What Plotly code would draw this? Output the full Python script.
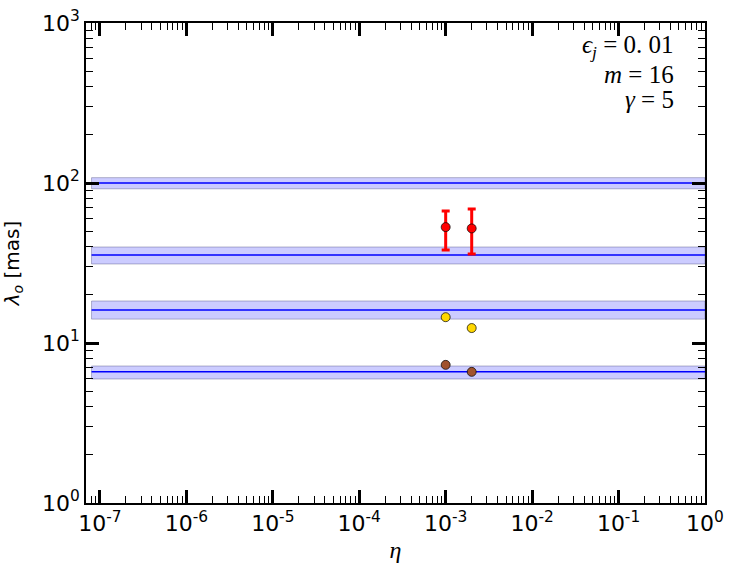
import plotly.graph_objects as go
import numpy as np

# Data
band_center = [100.0, 35.5, 16.1, 6.6]
band_lower = [92.0, 31.2, 14.1, 5.96]
band_upper = [108.0, 39.8, 18.3, 7.18]
band_x = [8e-8, 1.0]

eta = [1e-3, 2e-3]
red_vals = [53.0, 52.0]
red_err_plus = [13.8, 16.8]
red_err_minus = [14.9, 16.0]
yellow_vals = [14.5, 12.4]
brown_vals = [7.3, 6.6]

x_tick_vals = [1e-7, 1e-6, 1e-5, 1e-4, 1e-3, 1e-2, 1e-1, 1]
x_tick_text = ["10<sup>-7</sup>", "10<sup>-6</sup>", "10<sup>-5</sup>", "10<sup>-4</sup>",
               "10<sup>-3</sup>", "10<sup>-2</sup>", "10<sup>-1</sup>", "10<sup>0</sup>"]
y_tick_vals = [1, 10, 100, 1000]
y_tick_text = ["10<sup>0</sup>", "10<sup>1</sup>", "10<sup>2</sup>", "10<sup>3</sup>"]

fig = go.Figure()

for c, lo, hi in zip(band_center, band_lower, band_upper):
    fig.add_trace(go.Scatter(
        x=[band_x[0], band_x[1], band_x[1], band_x[0], band_x[0]],
        y=[lo, lo, hi, hi, lo],
        mode="lines", fill="toself",
        fillcolor="rgba(0,0,255,0.2)",
        line=dict(color="rgba(90,90,140,0.45)", width=1),
        hoverinfo="skip", showlegend=False))
    fig.add_trace(go.Scatter(
        x=band_x, y=[c, c], mode="lines",
        line=dict(color="blue", width=1.5),
        showlegend=False))

fig.add_trace(go.Scatter(
    x=eta, y=red_vals, mode="markers",
    marker=dict(color="red", size=9, line=dict(color="black", width=0.7)),
    error_y=dict(type="data", symmetric=False, array=red_err_plus,
                 arrayminus=red_err_minus, color="red", thickness=3, width=4),
    showlegend=False))
fig.add_trace(go.Scatter(
    x=eta, y=yellow_vals, mode="markers",
    marker=dict(color="gold", size=9, line=dict(color="black", width=0.7)),
    showlegend=False))
fig.add_trace(go.Scatter(
    x=eta, y=brown_vals, mode="markers",
    marker=dict(color="sienna", size=9, line=dict(color="black", width=0.7)),
    showlegend=False))

minor_x = [m * 10.0 ** k for k in range(-8, 1) for m in range(2, 10)]
minor_y = [m * 10.0 ** k for k in range(0, 3) for m in range(2, 10)]

axis_common = dict(
    showgrid=False, zeroline=False, showline=True, linecolor="black", linewidth=1.5,
    mirror="allticks", ticks="inside", ticklen=13, tickwidth=2.5, tickcolor="black",
    tickfont=dict(family="DejaVu Sans", size=22, color="black"),
    automargin=False,
)

fig.update_xaxes(
    type="log", range=[np.log10(6.9e-8), 0],
    tickmode="array", tickvals=x_tick_vals, ticktext=x_tick_text,
    minor=dict(ticks="inside", ticklen=7, tickwidth=1.2, tickcolor="black",
               tickmode="array", tickvals=minor_x),
    title=dict(text="<i>η</i>", font=dict(family="Liberation Serif", size=24, color="black"),
               standoff=6),
    **axis_common)
fig.update_yaxes(
    type="log", range=[0, 3],
    tickmode="array", tickvals=y_tick_vals, ticktext=y_tick_text,
    minor=dict(ticks="inside", ticklen=7, tickwidth=1.2, tickcolor="black",
               tickmode="array", tickvals=minor_y),
    title=dict(text="<i>λ<sub>o</sub></i> [mas]", font=dict(family="DejaVu Sans", size=20, color="black"),
               standoff=20),
    **axis_common)

for txt, yy in [("<i>ϵ<sub>j</sub></i> = 0. 01", 0.952), ("<i>m</i> = 16", 0.893), ("<i>γ</i> = 5", 0.84)]:
    fig.add_annotation(xref="paper", yref="paper", x=0.953, y=yy, text=txt,
                       showarrow=False, xanchor="right", yanchor="middle",
                       font=dict(family="Liberation Serif", size=25, color="black"))

fig.update_layout(
    width=734, height=576,
    margin=dict(l=86, r=29, t=23, b=73),
    paper_bgcolor="white", plot_bgcolor="white",
)

fig.write_html("out.html")
